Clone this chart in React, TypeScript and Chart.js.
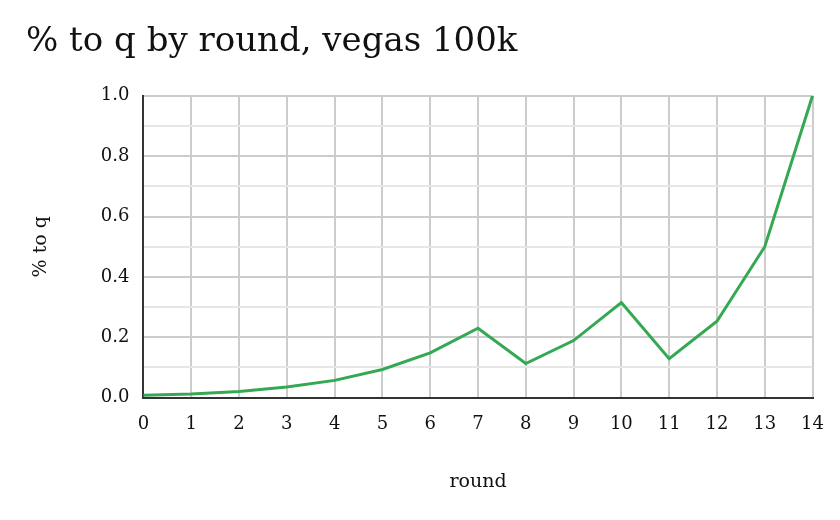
import React, { useEffect, useRef } from "react";
import { Chart, registerables } from "chart.js";

Chart.register(...registerables);

const rounds = ["0","1","2","3","4","5","6","7","8","9","10","11","12","13","14"];
const pctToQ = [0.008, 0.012, 0.02, 0.035, 0.057, 0.093, 0.148, 0.23, 0.113, 0.189, 0.315, 0.129, 0.253, 0.5, 1.0];

const FONT = "'DejaVu Serif', 'Liberation Serif', serif";

export default function App() {
  const ref = useRef<HTMLCanvasElement | null>(null);
  useEffect(() => {
    if (!ref.current) return;
    const chart = new Chart(ref.current, {
      type: "line",
      data: {
        labels: rounds,
        datasets: [
          {
            label: "% to q",
            data: pctToQ,
            borderColor: "#34a853",
            backgroundColor: "#34a853",
            borderWidth: 3,
            pointRadius: 0,
            tension: 0,
          },
        ],
      },
      options: {
        animation: false,
        responsive: true,
        maintainAspectRatio: false,
        layout: { padding: { left: 26, right: 27, top: 0, bottom: 23 } },
        plugins: {
          legend: { display: false },
          tooltip: { enabled: false },
          title: {
            display: true,
            text: "% to q by round, vegas 100k",
            align: "start",
            color: "#111",
            font: { family: FONT, size: 34, weight: "normal" },
            padding: { top: 22, bottom: 33 },
          },
        },
        scales: {
          x: {
            offset: false,
            grid: { color: "#cccccc", lineWidth: 2, drawTicks: false },
            border: { color: "#333333", width: 2 },
            ticks: { color: "#111", font: { family: FONT, size: 18 }, padding: 16, maxRotation: 0 },
            title: { display: true, text: "round", color: "#111", font: { family: FONT, size: 19 }, padding: { top: 19 } },
          },
          y: {
            min: 0,
            max: 1,
            grid: {
              drawTicks: false,
              lineWidth: 2,
              color: (ctx: any) => {
                const v = ctx.tick ? ctx.tick.value : 0;
                const k = Math.round(v * 10);
                return k % 2 === 0 ? "#cccccc" : "#e6e6e6";
              },
            },
            border: { color: "#333333", width: 2 },
            ticks: {
              stepSize: 0.1,
              color: "#111",
              font: { family: FONT, size: 18 },
              padding: 14,
              callback: (v: any) => {
                const k = Math.round(Number(v) * 10);
                return k % 2 === 0 ? Number(v).toFixed(1) : "";
              },
            },
            title: { display: true, text: "% to q", color: "#111", font: { family: FONT, size: 19 }, padding: { bottom: 34 } },
          },
        },
      },
    });
    return () => chart.destroy();
  }, []);
  return (
    <div style={{ position: "absolute", left: 0, top: 0, width: 840, height: 520, background: "#fff" }}>
      <canvas ref={ref} />
    </div>
  );
}
